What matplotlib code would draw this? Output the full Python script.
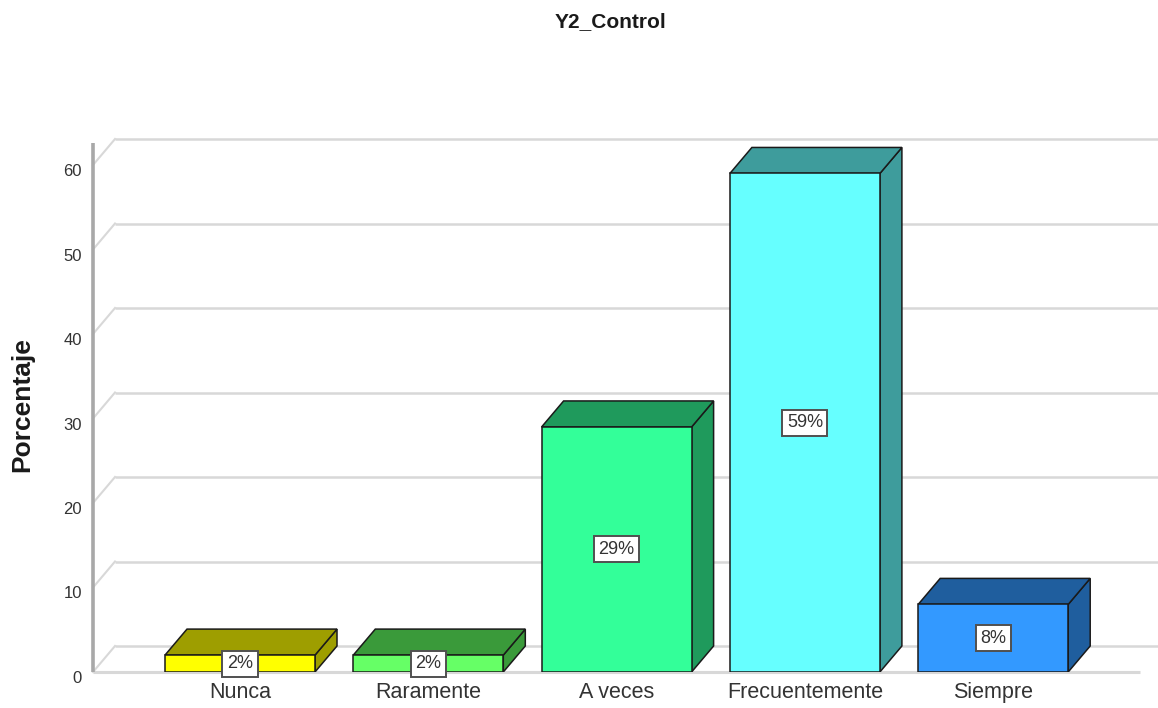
import matplotlib
matplotlib.use("Agg")
import matplotlib.pyplot as plt
from matplotlib.patches import Polygon
from matplotlib.transforms import ScaledTranslation

plt.rcParams['font.family'] = ['Liberation Sans', 'DejaVu Sans']

# Data
categories = ["Nunca", "Raramente", "A veces", "Frecuentemente", "Siempre"]
percentages = [2, 2, 29, 59, 8]
y_ticks = [0, 10, 20, 30, 40, 50, 60]
front_colors = ["#FFFF00", "#66FF66", "#33FF99", "#66FFFF", "#3399FF"]
shade_colors = ["#9E9E00", "#3A9A3A", "#1F9A5C", "#3E9C9C", "#1F5E9E"]

W, H = 1158, 708
fig = plt.figure(figsize=(W / 100, H / 100), dpi=100)

# Geometry of the pseudo-3D frame (pixel-based layout converted to data units)
px_per_unit = 8.45
slot_px = 188.3
first_center_px = 240
left_px, right_px = 93, 1158
floor_px, top_px = 672, 130

ax = fig.add_axes([left_px / W, (H - floor_px) / H,
                   (right_px - left_px) / W, (floor_px - top_px) / H])
xl = (left_px - first_center_px) / slot_px
xr = (right_px - first_center_px) / slot_px
ax.set_xlim(xl, xr)
ax.set_ylim(0, (floor_px - top_px) / px_per_unit)

bar_w = 150 / slot_px
dx = 22 / slot_px
dy = 26 / px_per_unit

grid_color = "#D8D8D8"
# Back wall gridlines and the diagonals connecting them to the front axis
for v in y_ticks:
    ax.plot([xl + dx, xr], [v + dy, v + dy], color=grid_color, lw=1.8,
            solid_capstyle='butt', zorder=1, clip_on=False)
    ax.plot([xl, xl + dx], [v, v + dy], color=grid_color, lw=1.5,
            zorder=1, clip_on=False)
# Front floor edge
floor_end = (1140 - first_center_px) / slot_px
ax.plot([xl, floor_end], [0, 0], color=grid_color, lw=2.2, zorder=1,
        solid_capstyle='butt', clip_on=False)
# Front vertical axis
ax.plot([xl, xl], [0, (floor_px - 143) / px_per_unit], color="#A8A8A8",
        lw=2.6, zorder=2, solid_capstyle='butt', clip_on=False)

edge = "#1A1A1A"
centers = list(range(len(categories)))
for c, v, fc, sc in zip(centers, percentages, front_colors, shade_colors):
    x0, x1 = c - bar_w / 2, c + bar_w / 2
    front = Polygon([(x0, 0), (x1, 0), (x1, v), (x0, v)], closed=True,
                    facecolor=fc, edgecolor=edge, lw=1.1, zorder=4)
    top = Polygon([(x0, v), (x1, v), (x1 + dx, v + dy), (x0 + dx, v + dy)],
                  closed=True, facecolor=sc, edgecolor=edge, lw=1.1, zorder=3)
    side = Polygon([(x1, 0), (x1 + dx, dy), (x1 + dx, v + dy), (x1, v)],
                   closed=True, facecolor=sc, edgecolor=edge, lw=1.1, zorder=3)
    for p in (side, top, front):
        ax.add_patch(p)
    ax.text(c, v / 2, f"{v}%", ha="center", va="center", fontsize=13,
            color="#333333", zorder=6,
            bbox=dict(boxstyle="square,pad=0.25", facecolor="white",
                      edgecolor="#505050", lw=1.4))

for s in ax.spines.values():
    s.set_visible(False)
ax.set_facecolor("none")

ax.set_xticks(centers)
ax.set_xticklabels(categories, fontsize=15.5, color="#333333")
ax.set_yticks(y_ticks)
ax.set_yticklabels([str(t) for t in y_ticks], fontsize=12, color="#333333")
ax.tick_params(axis='x', length=0, pad=7)
ax.tick_params(axis='y', length=0, pad=8)
shift = ScaledTranslation(0, -5 / 100, fig.dpi_scale_trans)
for lab in ax.get_yticklabels():
    lab.set_transform(lab.get_transform() + shift)

fig.text(610 / W, 1 - 22 / H, "Y2_Control", ha="center", va="center",
         fontsize=15, fontweight="bold", color="#1A1A1A")
fig.text(22 / W, 1 - 405 / H, "Porcentaje", ha="center", va="center",
         rotation=90, fontsize=19, fontweight="bold", color="#1A1A1A")

fig.savefig("out.png", dpi=100, facecolor="white")
